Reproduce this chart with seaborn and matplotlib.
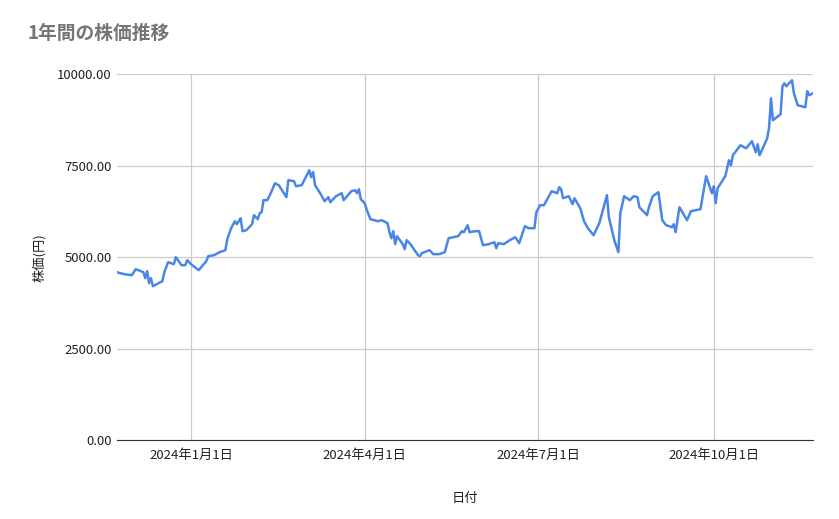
import matplotlib
matplotlib.use("Agg")
import matplotlib.pyplot as plt
import matplotlib.ticker as mticker
import seaborn as sns
import pandas as pd

days = [-39,-35,-31,-29,-25,-24,-23,-22,-21,-20,-18,-15,-14,-12,-9,-8,-5,-3,-2,0,4,8,9,12,15,18,19,21,23,24,26,27,29,32,33,35,36,37,38,40,42,44,46,50,51,54,55,58,62,63,64,65,68,70,72,73,76,79,80,84,86,87,88,89,91,92,94,98,100,103,104,105,106,107,108,111,112,113,115,119,120,121,125,127,130,133,135,140,142,143,145,146,149,151,153,156,159,160,161,164,167,170,172,175,177,180,181,183,185,189,192,193,194,195,198,200,201,204,206,208,211,214,218,219,222,224,225,227,230,232,234,235,239,240,242,245,247,249,252,253,254,256,260,262,267,270,273,274,275,276,280,282,283,284,288,291,294,296,297,298,302,303,304,305,309,310,311,312,315,316,318,322,323,324,326]
prices = [4590,4535,4508,4672,4590,4426,4617,4289,4426,4207,4262,4344,4590,4863,4808,5000,4781,4781,4918,4808,4644,4890,5027,5054,5136,5191,5491,5792,5983,5901,6065,5710,5737,5901,6147,6038,6202,6229,6557,6557,6775,7021,6967,6639,7103,7076,6939,6967,7376,7185,7322,6967,6721,6530,6639,6502,6666,6748,6557,6803,6830,6748,6857,6584,6475,6311,6038,5983,6010,5929,5682,5518,5710,5355,5573,5355,5218,5464,5355,5054,5027,5109,5191,5082,5082,5136,5518,5573,5710,5682,5874,5682,5710,5710,5327,5355,5409,5245,5382,5355,5464,5545,5382,5846,5792,5792,6229,6420,6420,6803,6748,6912,6857,6611,6666,6448,6611,6338,5983,5792,5600,5929,6693,6092,5436,5136,6202,6666,6557,6666,6639,6366,6147,6366,6666,6775,6010,5874,5819,5901,5682,6366,6010,6256,6311,7212,6748,6939,6475,6884,7212,7650,7513,7786,8059,7977,8168,7868,8087,7786,8250,8551,9343,8742,8906,9671,9753,9671,9835,9480,9152,9098,9535,9425,9480]

base = pd.Timestamp("2024-01-01")
df = pd.DataFrame({"date": base + pd.to_timedelta(days, unit="D"), "price": prices})

sns.set_style("white")
plt.rcParams["font.family"] = ["Noto Sans CJK JP", "DejaVu Sans"]

fig = plt.figure(figsize=(8.39, 5.19), dpi=100)
ax = fig.add_axes([0.139, 0.152, 0.830, 0.705])
sns.lineplot(data=df, x="date", y="price", ax=ax, color="#4a86e8", linewidth=1.8)

ax.set_xlim(base + pd.Timedelta(days=-39), base + pd.Timedelta(days=326))
ax.set_ylim(0, 10000)
ticks = [pd.Timestamp(s) for s in ["2024-01-01", "2024-04-01", "2024-07-01", "2024-10-01"]]
ax.set_xticks(ticks)
ax.set_xticklabels([f"{t.year}年{t.month}月{t.day}日" for t in ticks], fontsize=9.5, color="#222222")
ax.set_yticks([0, 2500, 5000, 7500, 10000])
ax.yaxis.set_major_formatter(mticker.FuncFormatter(lambda v, p: f"{v:.2f}"))
ax.tick_params(axis="y", labelsize=9.5, colors="#222222", length=0)
ax.tick_params(axis="x", length=0, pad=6)
ax.grid(True, color="#cccccc", linewidth=0.9)
for s in ["top", "right", "left"]:
    ax.spines[s].set_visible(False)
ax.spines["bottom"].set_color("#333333")
ax.set_xlabel("日付", fontsize=9.5, labelpad=22, color="#222222")
ax.set_ylabel("株価(円)", fontsize=9.5, labelpad=8, color="#222222")
fig.text(0.033, 0.925, "1年間の株価推移", fontsize=13.5, color="#757575", fontweight="bold")

fig.savefig("out.png", dpi=100)
